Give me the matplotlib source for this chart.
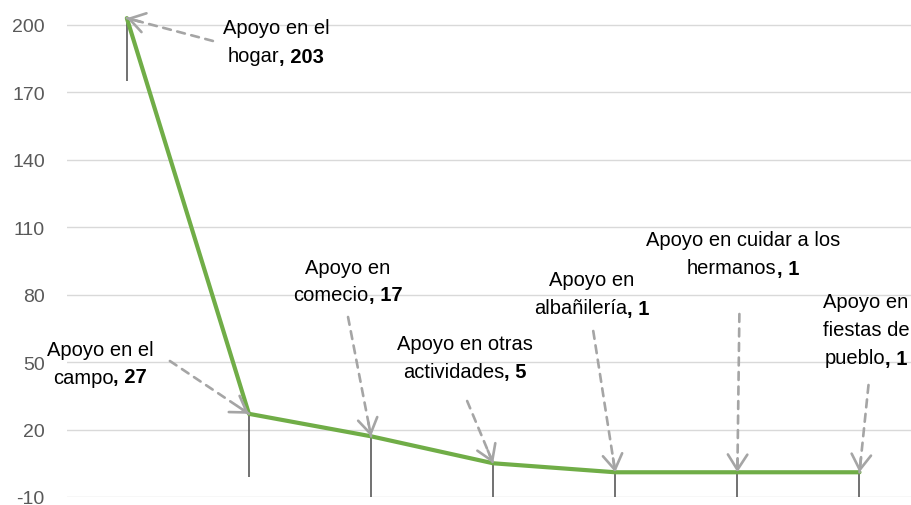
import numpy as np
import matplotlib
matplotlib.use("Agg")
import matplotlib.pyplot as plt

plt.rcParams['font.family'] = ['Liberation Sans', 'DejaVu Sans']
plt.rcParams['axes.unicode_minus'] = False

# datos
categorias = ['Apoyo en el hogar', 'Apoyo en el campo', 'Apoyo en comecio',
              'Apoyo en otras actividades', 'Apoyo en albañilería',
              'Apoyo en cuidar a los hermanos', 'Apoyo en fiestas de pueblo']
valores = [203, 27, 17, 5, 1, 1, 1]
error_menos = 28  # barra de error fija (solo hacia abajo)
etiquetas = ['Apoyo en el\nhogar', 'Apoyo en el\ncampo', 'Apoyo en\ncomecio',
             'Apoyo en otras\nactividades', 'Apoyo en\nalbañilería',
             'Apoyo en cuidar a los\nhermanos', 'Apoyo en\nfiestas de\npueblo']
yticks = [-10, 20, 50, 80, 110, 140, 170, 200]

# posiciones de etiquetas (centro x, centro y de la primera línea) y colas de flecha, en pixeles
texto_px = [(276, 29), (100, 350), (348, 268), (465, 345), (592, 281), (743, 241), (866, 303)]
cola_px = [(213, 42), (170, 362), (348, 318), (467, 402), (593, 332), (739, 315), (868, 386)]
alto_linea = 28
W, H = 912, 506


def px2data(px, py):
    return (px - 127) / 122.0, (498 - py) / 2.248 - 10


def data2px(dx, dy):
    return 127 + dx * 122.0, 498 - (dy + 10) * 2.248


fig = plt.figure(figsize=(W / 100, H / 100), dpi=100)
ax = fig.add_axes([67 / W, 1 - 498 / H, 1 - 67 / W, (498 - 3.4) / H])

x = np.arange(len(valores))
ax.set_xlim(-0.49, 6.43)
ax.set_ylim(-10, 210)

for yt in yticks:
    ax.axhline(yt, color='#D9D9D9', lw=1.0, zorder=0)

# barras de error
for xi, v in zip(x, valores):
    ax.vlines(xi, max(v - error_menos, -10), v, color='#595959', lw=1.2, zorder=2)

ax.plot(x, valores, color='#70AD47', lw=3.0, zorder=3, solid_capstyle='round')

renderer = fig.canvas.get_renderer()
fs = 14.5
gris = '#A5A5A5'

# etiquetas con flechas
for i in range(len(valores)):
    cx, cy = px2data(*cola_px[i])
    # trazo discontinuo
    ax.annotate('', xy=(x[i], valores[i]), xytext=(cx, cy),
                arrowprops=dict(arrowstyle='-', color=gris, lw=1.9, ls=(0, (3, 2.5)),
                                shrinkA=0, shrinkB=0),
                zorder=4, annotation_clip=False)
    # punta sólida
    px, py = data2px(x[i], valores[i])
    dxp, dyp = cola_px[i][0] - px, cola_px[i][1] - py
    n = np.hypot(dxp, dyp)
    hx, hy = px2data(px + dxp / n * 14, py + dyp / n * 14)
    ax.annotate('', xy=(x[i], valores[i]), xytext=(hx, hy),
                arrowprops=dict(arrowstyle='->,head_length=1.1,head_width=0.7',
                                color=gris, lw=1.9, shrinkA=0, shrinkB=0),
                zorder=4, annotation_clip=False)
    lineas = etiquetas[i].split('\n')
    tx, ty = texto_px[i]
    for j, linea in enumerate(lineas):
        yy = 1 - (ty + j * alto_linea) / H
        if j < len(lineas) - 1:
            fig.text(tx / W, yy, linea, ha='center', va='center', fontsize=fs, color='black')
        else:
            negrita = ', %d' % valores[i]
            t1 = fig.text(0, yy, linea, ha='left', va='center', fontsize=fs, color='black')
            t2 = fig.text(0, yy, negrita, ha='left', va='center', fontsize=fs,
                          color='black', fontweight='bold')
            w1 = t1.get_window_extent(renderer).width
            w2 = t2.get_window_extent(renderer).width
            x0 = tx - (w1 + w2) / 2
            t1.set_x(x0 / W)
            t2.set_x((x0 + w1) / W)

ax.set_yticks(yticks)
ax.set_xticks([])
ax.tick_params(axis='y', length=0, labelsize=14, labelcolor='#595959', pad=16)
for s in ax.spines.values():
    s.set_visible(False)

fig.savefig('out.png', dpi=100)
